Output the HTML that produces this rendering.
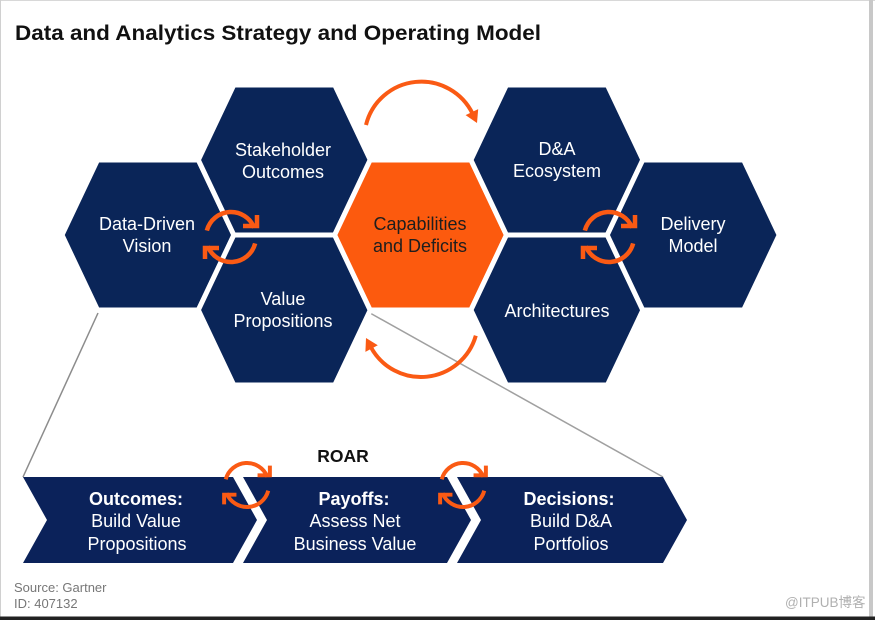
<!DOCTYPE html>
<html>
<head>
<meta charset="utf-8">
<style>
  html, body { margin:0; padding:0; background:#fff; }
  body { width:875px; height:620px; overflow:hidden; }
  svg { display:block; }
  .ht { font-family:"Liberation Sans", Arial, sans-serif; font-size:18px; fill:#fff; text-anchor:middle; }
  .ct { font-family:"Liberation Sans", Arial, sans-serif; font-size:18px; fill:#fff; text-anchor:middle; }
  .b { font-weight:bold; }
</style>
</head>
<body>
<svg width="875" height="620" viewBox="0 0 875 620" xmlns="http://www.w3.org/2000/svg">
  <defs>
    <polygon id="hex" points="-86,0 -50.5,-75 50.5,-75 86,0 50.5,75 -50.5,75"/>
    <g id="cyc" fill="none" stroke="#fa5a14" stroke-width="4.5">
      <path d="M -24.15 -6.47 A 25 25 0 0 1 23.18 -9.37"/>
      <polyline points="12,-11 26,-11 26,-22" stroke-linejoin="miter"/>
      <path d="M 24.15 6.47 A 25 25 0 0 1 -23.18 9.37"/>
      <polyline points="-12,11 -26,11 -26,22" stroke-linejoin="miter"/>
    </g>
  </defs>

  <!-- frame -->
  <rect x="0" y="0" width="875" height="620" fill="#fff"/>
  <line x1="0" y1="0.5" x2="875" y2="0.5" stroke="#d8d8d8" stroke-width="1"/>
  <line x1="0.5" y1="0" x2="0.5" y2="618" stroke="#d0d0d0" stroke-width="1"/>
  <rect x="869" y="0" width="4" height="618" fill="#c8c8c8"/>
  <rect x="0" y="616.5" width="875" height="3.5" fill="#222"/>

  <!-- title -->
  <text x="15" y="40" font-family="Liberation Sans, Arial, sans-serif" font-size="21" font-weight="bold" fill="#111" textLength="526" lengthAdjust="spacingAndGlyphs">Data and Analytics Strategy and Operating Model</text>

  <!-- gray connector lines -->
  <line x1="98" y1="313" x2="23" y2="477" stroke="#8c8c8c" stroke-width="1.5"/>
  <line x1="370" y1="313" x2="663" y2="477" stroke="#a0a0a0" stroke-width="1.5"/>

  <!-- hexagons -->
  <g stroke="#fff" stroke-width="5" stroke-linejoin="miter">
    <use href="#hex" x="148" y="235" fill="#0a2558"/>
    <use href="#hex" x="284.3" y="160" fill="#0a2558"/>
    <use href="#hex" x="284.3" y="310" fill="#0a2558"/>
    <use href="#hex" x="420.6" y="235" fill="#fc5a0e"/>
    <use href="#hex" x="556.9" y="160" fill="#0a2558"/>
    <use href="#hex" x="556.9" y="310" fill="#0a2558"/>
    <use href="#hex" x="693.2" y="235" fill="#0a2558"/>
  </g>

  <!-- hex labels -->
  <text class="ht" x="147" y="230">Data-Driven</text>
  <text class="ht" x="147" y="252">Vision</text>
  <text class="ht" x="283" y="156">Stakeholder</text>
  <text class="ht" x="283" y="178">Outcomes</text>
  <text class="ht" x="283" y="305">Value</text>
  <text class="ht" x="283" y="327">Propositions</text>
  <text class="ht" x="420" y="230" style="fill:#1e1e1e">Capabilities</text>
  <text class="ht" x="420" y="252" style="fill:#1e1e1e">and Deficits</text>
  <text class="ht" x="557" y="155">D&amp;A</text>
  <text class="ht" x="557" y="177">Ecosystem</text>
  <text class="ht" x="557" y="317">Architectures</text>
  <text class="ht" x="693" y="230">Delivery</text>
  <text class="ht" x="693" y="252">Model</text>

  <!-- big arcs -->
  <path d="M 366 125 A 57 57 0 0 1 472.7 113.9" fill="none" stroke="#fa5a14" stroke-width="4"/>
  <polygon points="477,123 478.2,109.1 465.6,115.1" fill="#fa5a14"/>
  <path d="M 475.8 335.7 A 57 57 0 0 1 370.7 346.8" fill="none" stroke="#fa5a14" stroke-width="4"/>
  <polygon points="366,338 377.8,345.3 365.4,351.9" fill="#fa5a14"/>

  <!-- cycle icons in hex area -->
  <use href="#cyc" transform="translate(231,237)"/>
  <use href="#cyc" transform="translate(609,237)"/>

  <!-- ROAR -->
  <text x="343" y="462" font-family="Liberation Sans, Arial, sans-serif" font-size="17.5" font-weight="bold" fill="#111" text-anchor="middle">ROAR</text>

  <!-- chevron band -->
  <g fill="#0b225a">
    <polygon points="23,477 233,477 257,520 233,563 23,563 47,520"/>
    <polygon points="243,477 447,477 471,520 447,563 243,563 267,520"/>
    <polygon points="457,477 663,477 687,520 663,563 457,563 481,520"/>
  </g>

  <text class="ct b" x="136" y="505">Outcomes:</text>
  <text class="ct" x="136" y="527">Build Value</text>
  <text class="ct" x="137" y="550">Propositions</text>

  <text class="ct b" x="354" y="505">Payoffs:</text>
  <text class="ct" x="355" y="527">Assess Net</text>
  <text class="ct" x="355" y="550">Business Value</text>

  <text class="ct b" x="569" y="505">Decisions:</text>
  <text class="ct" x="571" y="527">Build D&amp;A</text>
  <text class="ct" x="571" y="550">Portfolios</text>

  <!-- cycle icons in band -->
  <use href="#cyc" transform="translate(247,485) scale(0.88)"/>
  <use href="#cyc" transform="translate(463,485) scale(0.88)"/>

  <!-- source -->
  <text x="14" y="592" font-family="Liberation Sans, Arial, sans-serif" font-size="13" fill="#777">Source: Gartner</text>
  <text x="14" y="608" font-family="Liberation Sans, Arial, sans-serif" font-size="13" fill="#777">ID: 407132</text>

  <!-- watermark -->
  <text x="785" y="607" font-family="Liberation Sans, 'Noto Sans CJK SC', sans-serif" font-size="13.5" fill="#b0b0b0">@ITPUB博客</text>
</svg>
</body>
</html>
